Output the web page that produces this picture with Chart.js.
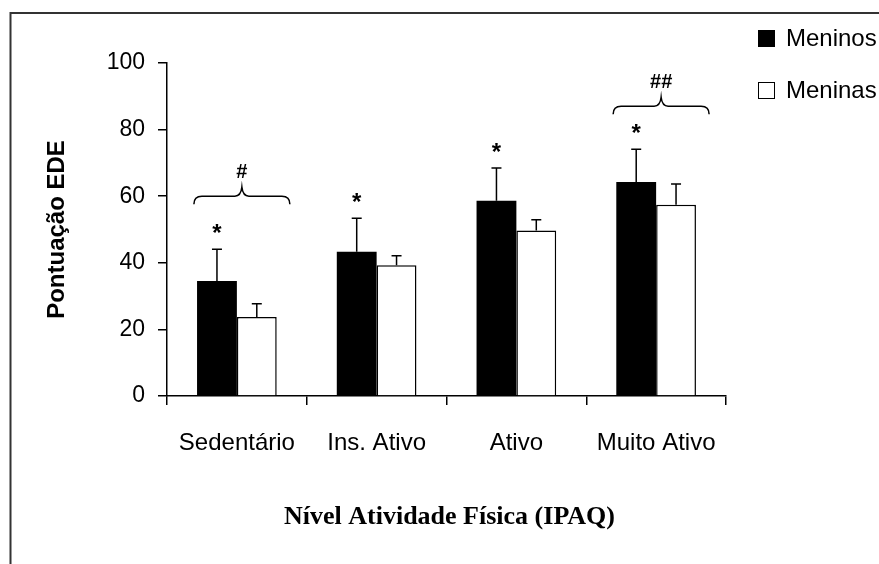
<!DOCTYPE html>
<html lang="pt">

<head>
    <meta charset="UTF-8">
    <title>Pontuação EDE por Nível de Atividade Física</title>
    <script src="https://cdn.jsdelivr.net/npm/chart.js"></script>
    <style>
        body { margin: 0; background: #fff; }
    </style>
</head>

<body>
    <canvas id="edeChart" width="879" height="564"></canvas>

    <script>
        // Dados
        var categorias = ['Sedentário', 'Ins. Ativo', 'Ativo', 'Muito Ativo'];
        var meninos = [34.5, 43.3, 58.6, 64.3];
        var meninas = [23.7, 39.3, 49.7, 57.4];
        var meninosDP = [9.6, 10.1, 9.9, 9.8];
        var meninasDP = [4.0, 2.8, 3.2, 6.3];
        var asteriscos = ['*', '*', '*', '*'];
        var chaveRotulos = ['#', '', '', '##'];
        var chaveNivel = [60, null, null, 87];
        var yTicks = [0, 20, 40, 60, 80, 100];

        var desvios = [meninosDP, meninasDP];
        var fonteSans = '"Liberation Sans", Arial, sans-serif';

        // Barras de erro, asteriscos, chaves, legenda e moldura
        var extrasPlugin = {
            id: 'extras',
            beforeDraw: function (chart) {
                var ctx = chart.ctx;
                ctx.save();
                ctx.fillStyle = '#fff';
                ctx.fillRect(0, 0, chart.width, chart.height);
                ctx.restore();
            },
            afterDatasetsDraw: function (chart) {
                var ctx = chart.ctx;
                var y = chart.scales.y;
                ctx.save();
                ctx.strokeStyle = '#000';
                ctx.fillStyle = '#000';
                ctx.lineWidth = 1.5;

                chart.data.datasets.forEach(function (ds, i) {
                    var meta = chart.getDatasetMeta(i);
                    meta.data.forEach(function (bar, j) {
                        var topo = y.getPixelForValue(ds.data[j] + desvios[i][j]);
                        ctx.beginPath();
                        ctx.moveTo(bar.x, bar.y);
                        ctx.lineTo(bar.x, topo);
                        ctx.moveTo(bar.x - 5, topo);
                        ctx.lineTo(bar.x + 5, topo);
                        ctx.stroke();

                        if (i === 0 && asteriscos[j]) {
                            ctx.font = 'bold 24px ' + fonteSans;
                            ctx.textAlign = 'center';
                            ctx.textBaseline = 'alphabetic';
                            ctx.fillText(asteriscos[j], bar.x, topo - 8);
                        }
                    });
                });

                // chaves com # / ##
                var x = chart.scales.x;
                chaveRotulos.forEach(function (txt, j) {
                    if (!txt) return;
                    var cx = x.getPixelForValue(j) + 5;
                    var py = y.getPixelForValue(chaveNivel[j]);
                    var w = 48, d = 8, r = 8, p = 9;
                    ctx.beginPath();
                    ctx.moveTo(cx - w, py + d);
                    ctx.quadraticCurveTo(cx - w, py, cx - w + r, py);
                    ctx.lineTo(cx - 7, py);
                    ctx.quadraticCurveTo(cx - 1, py, cx, py - p);
                    ctx.quadraticCurveTo(cx + 1, py, cx + 7, py);
                    ctx.lineTo(cx + w - r, py);
                    ctx.quadraticCurveTo(cx + w, py, cx + w, py + d);
                    ctx.stroke();
                    ctx.font = 'bold 20px ' + fonteSans;
                    ctx.textAlign = 'center';
                    ctx.textBaseline = 'alphabetic';
                    ctx.fillText(txt, cx, py - 18);
                });
                ctx.restore();
            },
            afterDraw: function (chart) {
                var ctx = chart.ctx;
                var area = chart.chartArea;
                ctx.save();

                // legenda
                ctx.font = '24px ' + fonteSans;
                ctx.textAlign = 'left';
                ctx.textBaseline = 'alphabetic';
                chart.data.datasets.forEach(function (ds, i) {
                    var ly = 30 + i * 52;
                    ctx.fillStyle = ds.backgroundColor;
                    ctx.fillRect(758, ly, 17, 17);
                    ctx.strokeStyle = '#000';
                    ctx.lineWidth = 1;
                    ctx.strokeRect(758.5, ly + 0.5, 16, 16);
                    ctx.fillStyle = '#000';
                    ctx.fillText(ds.label, 786, ly + 16);
                });

                // título do eixo x
                ctx.font = 'bold 26px "Liberation Serif", "Times New Roman", serif';
                ctx.textAlign = 'center';
                ctx.fillText('Nível Atividade Física (IPAQ)', (area.left + area.right) / 2 + 3, 524);

                // moldura
                ctx.strokeStyle = '#333';
                ctx.lineWidth = 2;
                ctx.beginPath();
                ctx.moveTo(10.5, chart.height);
                ctx.lineTo(10.5, 13);
                ctx.lineTo(chart.width, 13);
                ctx.stroke();
                ctx.restore();
            }
        };

        var ctx = document.getElementById('edeChart').getContext('2d');

        var edeChart = new Chart(ctx, {
            type: 'bar',
            data: {
                labels: categorias,
                datasets: [{
                    label: 'Meninos',
                    data: meninos,
                    backgroundColor: '#000',
                    borderWidth: 0
                }, {
                    label: 'Meninas',
                    data: meninas,
                    backgroundColor: '#fff',
                    borderColor: '#000',
                    borderWidth: 1.5
                }]
            },
            options: {
                responsive: false,
                animation: false,
                devicePixelRatio: 1,
                categoryPercentage: 0.57,
                barPercentage: 1.0,
                layout: {
                    padding: { left: 0, top: 63, right: 153, bottom: 0 }
                },
                plugins: {
                    legend: { display: false },
                    tooltip: { enabled: false }
                },
                scales: {
                    x: {
                        grid: {
                            drawOnChartArea: false,
                            drawTicks: true,
                            tickLength: 9,
                            color: '#000',
                            lineWidth: 1.5,
                            offset: true
                        },
                        border: { display: true, color: '#000', width: 1.5 },
                        ticks: {
                            color: '#000',
                            padding: 24,
                            font: { family: fonteSans, size: 24 }
                        },
                        afterFit: function (s) { s.height = 168; }
                    },
                    y: {
                        min: 0,
                        max: 100,
                        afterBuildTicks: function (s) {
                            s.ticks = yTicks.map(function (v) { return { value: v }; });
                        },
                        grid: {
                            drawOnChartArea: false,
                            drawTicks: true,
                            tickLength: 9,
                            color: '#000',
                            lineWidth: 1.5
                        },
                        border: { display: true, color: '#000', width: 1.5 },
                        ticks: {
                            color: '#000',
                            padding: 13,
                            font: { family: fonteSans, size: 23 }
                        },
                        title: {
                            display: true,
                            text: 'Pontuação EDE',
                            color: '#000',
                            padding: { top: 43, bottom: 0 },
                            font: { family: fonteSans, size: 24, weight: 'bold' }
                        },
                        afterFit: function (s) { s.width = 167; }
                    }
                }
            },
            plugins: [extrasPlugin]
        });
    </script>
</body>

</html>
